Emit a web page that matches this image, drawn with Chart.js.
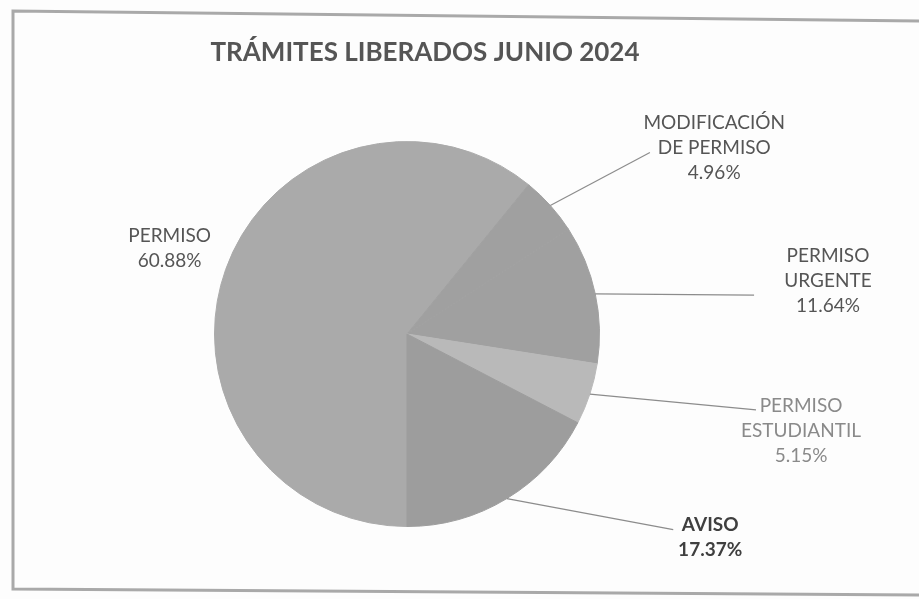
<!DOCTYPE html>
<html>
<head>
<meta charset="utf-8">
<script src="https://cdn.jsdelivr.net/npm/chart.js@4/dist/chart.umd.min.js"></script>
<style>
  html, body { margin: 0; padding: 0; background: #fdfdfd; }
  #wrap { width: 919px; height: 599px; position: relative; }
</style>
</head>
<body>
<div id="wrap"><canvas id="pieCanvas"></canvas></div>
<script>
const chartTitle = 'TRÁMITES LIBERADOS JUNIO 2024';
const categories = [
    ['PERMISO'],
    ['MODIFICACIÓN', 'DE PERMISO'],
    ['PERMISO', 'URGENTE'],
    ['PERMISO', 'ESTUDIANTIL'],
    ['AVISO']
];
const shares = [60.88, 4.96, 11.64, 5.15, 17.37]; // percent

const sliceColors = ['#aaaaaa', '#a0a0a0', '#a0a0a0', '#b9b9b9', '#9d9d9d'];
const textColors = ['#555555', '#555555', '#555555', '#8a8a8a', '#3f3f3f'];
const textBold = [false, false, false, false, true];

// label block centre and leader end, in pie radii from the centre
const labelSpots = [
    { tx: -1.233, ty: -0.446, lx: null, ly: null },
    { tx: 1.596, ty: -0.969, lx: 1.262, ly: -0.943 },
    { tx: 2.187, ty: -0.275, lx: 1.803, ly: -0.202 },
    { tx: 2.047, ty: 0.503, lx: 1.813, ly: 0.394 },
    { tx: 1.575, ty: 1.057, lx: 1.383, ly: 1.016 }
];

const FONT = 'Lato, "Open Sans", sans-serif';

const decorPlugin = {
    id: 'decor',
    beforeDraw(chart) {
        const ctx = chart.ctx;
        ctx.save();
        // scanned frame
        ctx.strokeStyle = '#a9a9a9';
        ctx.lineWidth = 3;
        ctx.beginPath();
        ctx.moveTo(930, 21);
        ctx.lineTo(13, 11);
        ctx.lineTo(13, 589);
        ctx.lineTo(930, 595);
        ctx.stroke();
        // title
        ctx.fillStyle = '#555555';
        ctx.font = 'bold 26px ' + FONT;
        ctx.textAlign = 'center';
        ctx.textBaseline = 'middle';
        ctx.fillText(chartTitle, 425, 53);
        ctx.restore();
    },
    afterDatasetsDraw(chart) {
        const ctx = chart.ctx;
        const arcs = chart.getDatasetMeta(0).data;
        ctx.save();
        arcs.forEach((arc, i) => {
            const p = arc.getProps(['x', 'y', 'startAngle', 'endAngle', 'outerRadius'], true);
            const r = p.outerRadius;
            const mid = (p.startAngle + p.endAngle) / 2;
            const spot = labelSpots[i];
            if (spot.lx !== null) {
                ctx.strokeStyle = '#8c8c8c';
                ctx.lineWidth = 1.2;
                ctx.beginPath();
                ctx.moveTo(p.x + Math.cos(mid) * r, p.y + Math.sin(mid) * r);
                ctx.lineTo(p.x + spot.lx * r, p.y + spot.ly * r);
                ctx.stroke();
            }
            const lines = categories[i].concat([shares[i].toFixed(2) + '%']);
            const cx = p.x + spot.tx * r;
            const cy = p.y + spot.ty * r;
            const lh = 25;
            ctx.fillStyle = textColors[i];
            ctx.font = (textBold[i] ? 'bold ' : '') + '19px ' + FONT;
            ctx.textAlign = 'center';
            ctx.textBaseline = 'middle';
            lines.forEach((t, k) => {
                ctx.fillText(t, cx, cy + (k - (lines.length - 1) / 2) * lh);
            });
        });
        ctx.restore();
    }
};

new Chart(document.getElementById('pieCanvas'), {
    type: 'pie',
    data: {
        labels: categories,
        datasets: [{
            data: shares,
            backgroundColor: sliceColors,
            borderColor: sliceColors,
            borderWidth: 1
        }]
    },
    options: {
        responsive: true,
        maintainAspectRatio: false,
        animation: false,
        rotation: 180,
        layout: { padding: { top: 141, bottom: 72, left: 214, right: 319 } },
        plugins: {
            legend: { display: false },
            tooltip: { enabled: false }
        }
    },
    plugins: [decorPlugin]
});
</script>
</body>
</html>
